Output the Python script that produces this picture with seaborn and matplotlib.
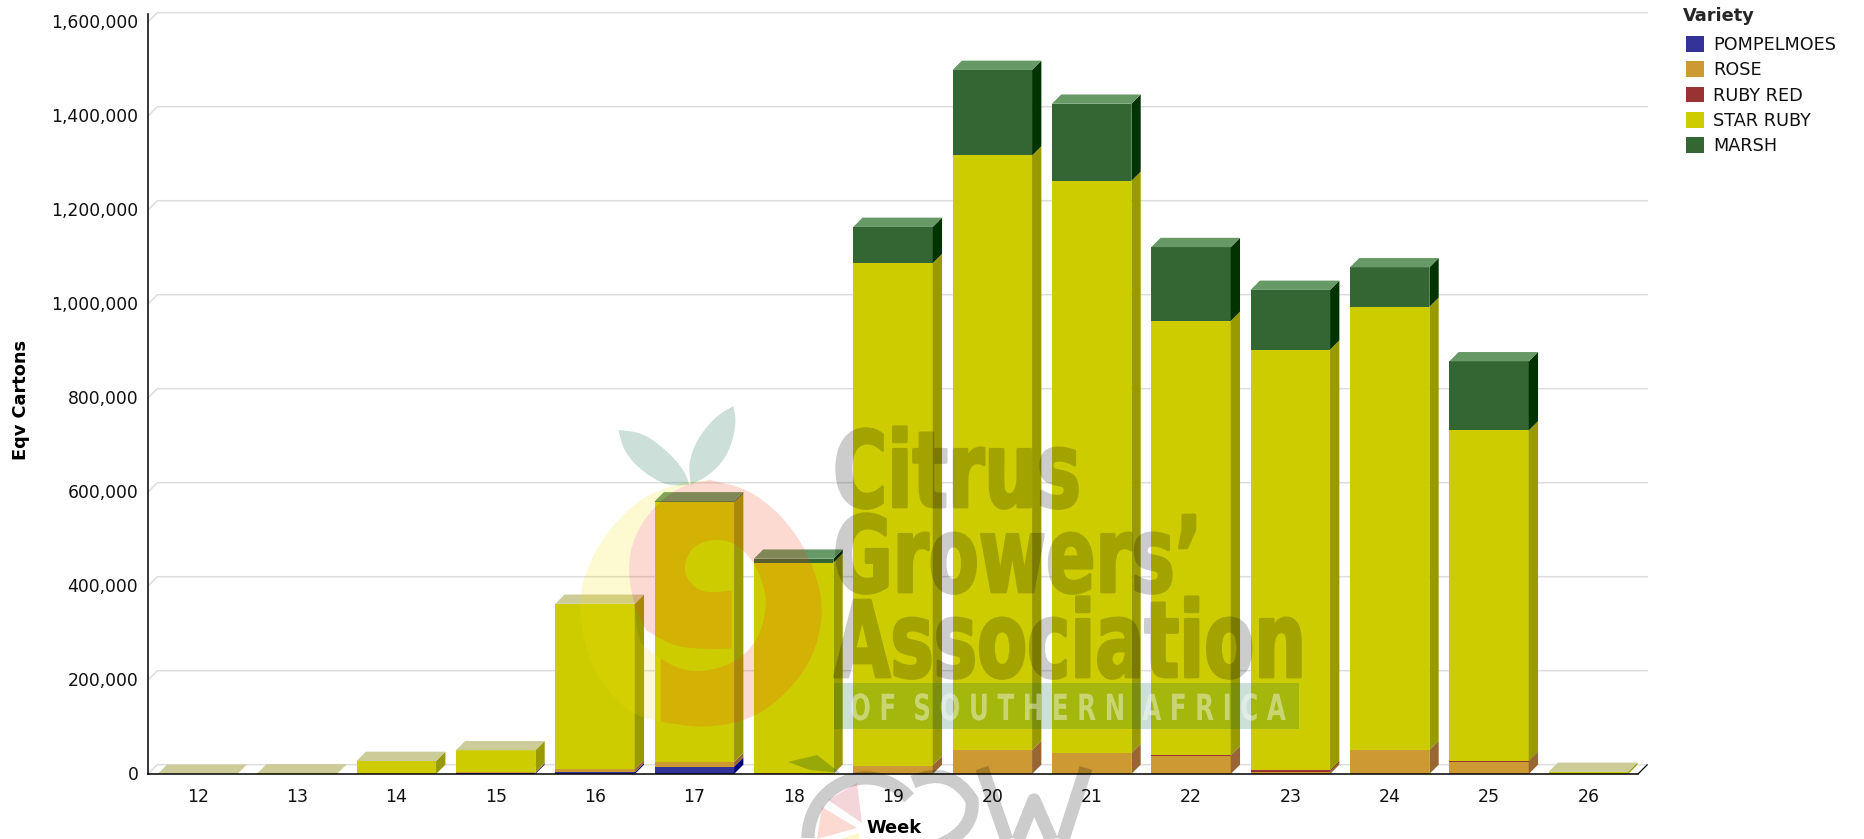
import numpy as np
import pandas as pd
import matplotlib
matplotlib.use("Agg")
import matplotlib.pyplot as plt
import seaborn as sns
from matplotlib.patches import Polygon, PathPatch, Patch, Rectangle
from matplotlib.path import Path
from matplotlib.patheffects import AbstractPathEffect
from matplotlib.transforms import Affine2D, ScaledTranslation

weeks = ["12", "13", "14", "15", "16", "17", "18", "19", "20", "21", "22", "23", "24", "25", "26"]
pompelmoes = [0, 0, 0, 2000, 3500, 15500, 0, 0, 0, 500, 0, 0, 0, 0, 0]
rose = [0, 0, 0, 1500, 7000, 10000, 1500, 18000, 51000, 44000, 38000, 5000, 51000, 26000, 0]
ruby_red = [0, 0, 0, 500, 0, 0, 0, 0, 0, 0, 1500, 2500, 0, 1500, 0]
star_ruby = [300, 1200, 27700, 46400, 351500, 552500, 448000, 1069000, 1265000, 1217500, 924500, 895500, 943000, 703500, 4500]
marsh = [0, 0, 0, 0, 0, 2000, 8500, 77000, 182000, 164000, 157000, 127000, 84000, 147000, 0]

series_names = ["POMPELMOES", "ROSE", "RUBY RED", "STAR RUBY", "MARSH"]
series_values = [pompelmoes, rose, ruby_red, star_ruby, marsh]
front_colors = ["#333399", "#cc9933", "#993333", "#cccc00", "#336633"]
side_colors = ["#000080", "#996633", "#660000", "#999900", "#003300"]
top_colors = ["#6666cc", "#cc9966", "#cc6666", "#cccc99", "#669966"]
y_ticks = [0, 200000, 400000, 600000, 800000, 1000000, 1200000, 1400000, 1600000]

W, H = 1864, 839
sns.set_theme(style="white")
plt.rcParams["font.family"] = ["DejaVu Sans"]
fig = plt.figure(figsize=(W / 100, H / 100), dpi=100, facecolor="white")

ax_l, ax_r, ax_b, ax_t = 148, 1638, 774, 14
ax = fig.add_axes([ax_l / W, 1 - ax_b / H, (ax_r - ax_l) / W, (ax_b - ax_t) / H])
ymax = (ax_b - ax_t) / 470 * 1e6
depth = 9.3

df = pd.DataFrame({"Week": weeks})
bottom = np.zeros(len(weeks))
for name, vals, col in zip(series_names, series_values, front_colors):
    df[name] = vals
    sns.barplot(data=df, x="Week", y=name, order=weeks, color=col, saturation=1,
                width=0.8, bottom=bottom.copy(), ax=ax, linewidth=0, zorder=3)
    bottom += np.asarray(vals, dtype=float)

ax.set_xlim(-0.5, len(weeks) - 0.5)
ax.set_ylim(0, ymax)
dx = depth * len(weeks) / (ax_r - ax_l)
dy = depth * ymax / (ax_b - ax_t)

# pseudo-3D faces derived from the bars drawn by seaborn
topmost = {}
for s, cont in enumerate(ax.containers):
    for i, bar in enumerate(cont):
        h = bar.get_height()
        if h <= 0:
            continue
        x0, y0, w = bar.get_x(), bar.get_y(), bar.get_width()
        x1, y1 = x0 + w, y0 + h
        ax.add_patch(Polygon([(x1, y0), (x1 + dx, y0 + dy), (x1 + dx, y1 + dy), (x1, y1)],
                             closed=True, fc=side_colors[s], lw=0, zorder=3, clip_on=False))
        topmost[i] = (x0, x1, y1, s)
for x0, x1, y1, s in topmost.values():
    ax.add_patch(Polygon([(x0, y1), (x0 + dx, y1 + dy), (x1 + dx, y1 + dy), (x1, y1)],
                         closed=True, fc=top_colors[s], lw=0, zorder=3, clip_on=False))

# back wall grid with diagonals
grid_c = "#dedede"
xa, xb = -0.5, len(weeks) - 0.5
for v in y_ticks:
    ax.plot([xa, xa + dx, xb + dx], [v, v + dy, v + dy], color=grid_c, lw=1.1, zorder=1,
            clip_on=False, solid_joinstyle="miter")
ax.plot([xb, xb + dx], [0, dy], color="black", lw=0.9, zorder=4, clip_on=False)

for sp in ["top", "right"]:
    ax.spines[sp].set_visible(False)
for sp in ["left", "bottom"]:
    ax.spines[sp].set_color("black")
    ax.spines[sp].set_linewidth(1.1)
    ax.spines[sp].set_zorder(5)
ax.grid(False)
ax.set_xticks(range(len(weeks)))
ax.set_xticklabels(weeks)
ax.set_yticks(y_ticks)
ax.set_yticklabels([f"{v:,}" for v in y_ticks])
ax.tick_params(axis="both", length=0, labelsize=12.4, labelcolor="#111111")
ax.tick_params(axis="x", pad=10)
ax.tick_params(axis="y", pad=7)
for lab in ax.get_yticklabels():
    lab.set_transform(lab.get_transform() + ScaledTranslation(0, 1.0 / 72, fig.dpi_scale_trans))
ax.set_xlabel("")
ax.set_ylabel("")

fig.text(894 / W, 1 - 828 / H, "Week", ha="center", va="center", fontsize=12.8, fontweight="bold", color="black", zorder=30)
fig.text(21 / W, 1 - 400 / H, "Eqv Cartons", ha="center", va="center", rotation=90, fontsize=12.8,
         fontweight="bold", color="black")

handles = [Patch(fc=c, lw=0, label=n) for n, c in zip(series_names, front_colors)]
leg = fig.legend(handles=handles, title="Variety", loc="upper left",
                 bbox_to_anchor=(1686 / W, 1 - 7 / H), frameon=False, borderpad=0, borderaxespad=0,
                 fontsize=12.7, title_fontproperties={"weight": "bold", "size": 12.8},
                 handlelength=1, handleheight=1, handletextpad=0.53, labelspacing=0.42, alignment="left")
leg.get_title().set_position((-3, 0))
leg._legend_box.sep = 7.7
for t in leg.get_texts():
    t.set_color("#111111")

# watermark overlay in pixel coordinates
ov = fig.add_axes([0, 0, 1, 1], zorder=20)
ov.set_xlim(0, W)
ov.set_ylim(H, 0)
ov.axis("off")
ov.patch.set_alpha(0)


def z6(pts):
    return [(560 + x / 3, 400 + y / 3) for x, y in pts]


def smooth(pts, n=3):
    p = np.asarray(pts, dtype=float)
    for _ in range(n):
        a = 0.75 * p[:-1] + 0.25 * p[1:]
        b = 0.25 * p[:-1] + 0.75 * p[1:]
        q = np.empty((2 * len(a), 2))
        q[0::2] = a
        q[1::2] = b
        p = np.vstack([p[:1], q[1:-1], p[-1:]])
    return [tuple(v) for v in p]


pink_left = [(258, 690), (222, 620), (202, 500), (225, 400), (290, 310), (370, 255), (450, 240)]
pink_right = [(450, 240), (560, 265), (660, 340), (740, 450), (785, 580), (785, 680), (750, 790),
              (670, 890), (570, 960), (430, 985), (302, 965)]
nine_band = [(302, 775), (350, 805), (420, 817), (510, 795), (570, 750), (605, 690), (620, 615),
             (612, 560), (585, 490), (530, 430), (460, 415), (395, 440), (370, 500), (385, 545),
             (430, 580), (515, 572)]
nine_in = [(515, 745), (450, 748), (340, 740), (258, 690)]
pink = smooth(pink_left) + smooth(pink_right)[1:] + smooth(nine_band) + smooth(nine_in)
ov.add_patch(Polygon(z6(pink), closed=True, fc="#f0461e", alpha=0.2, lw=0))

yellow_outer = [(450, 240), (350, 250), (230, 300), (130, 410), (70, 530), (57, 620), (75, 750),
                (130, 860), (210, 940), (302, 968)]
yellow = smooth(yellow_outer) + smooth([(302, 775), (258, 745), (235, 720), (222, 620)]) + smooth(pink_left[1:])[1:]
ov.add_patch(Polygon(z6(yellow), closed=True, fc="#f4de00", alpha=0.18, lw=0))

for side_a, side_b in [([(175, 90), (250, 98), (330, 160), (375, 215), (388, 255)],
                        [(388, 255), (320, 258), (240, 210), (190, 150), (175, 90)]),
                       ([(520, 18), (530, 70), (505, 165), (450, 225), (392, 255)],
                        [(392, 255), (385, 190), (410, 120), (465, 50), (520, 18)])]:
    ov.add_patch(Polygon(z6(smooth(side_a) + smooth(side_b)), closed=True, fc="#006441", alpha=0.2, lw=0))


class Squeeze(AbstractPathEffect):
    """Condense a text's glyphs horizontally about x0 and fatten them by a stroke."""

    def __init__(self, x0, sx, stroke=0.0):
        super().__init__()
        self.x0, self.sx, self.stroke = x0, sx, stroke

    def draw_path(self, renderer, gc, tpath, affine, rgbFace=None):
        aff = affine + Affine2D().translate(-self.x0, 0).scale(self.sx, 1).translate(self.x0, 0)
        g = renderer.new_gc()
        g.copy_properties(gc)
        if self.stroke:
            g.set_linewidth(self.stroke)
            g.set_foreground(rgbFace)
        renderer.draw_path(g, tpath, aff, rgbFace)
        g.restore()


def alpha_filter(a):
    def f(im, dpi):
        im = im.copy()
        im[..., 3] *= a
        return im, 0, 0
    return f


for txt, x, y, fs, sx in [("Citrus", 833, 507, 76, 0.70), ("Growers\u2019", 833, 592, 76, 0.69),
                          ("Association", 834, 677, 76, 0.69)]:
    t = ov.text(x, y, txt, fontweight="bold", fontsize=fs, color="black", ha="left", va="baseline")
    t.set_path_effects([Squeeze(ov.transData.transform((x, y))[0], sx, stroke=2.0)])
    t.set_agg_filter(alpha_filter(0.2))
ov.add_patch(Rectangle((834, 683), 465, 46, fc="#006441", alpha=0.2, lw=0))
t = ov.text(850, 720, "O F  S O U T H E R N  A F R I C A", fontweight="bold", fontsize=26,
            color="white", alpha=0.42, ha="left", va="baseline")
t.set_path_effects([Squeeze(ov.transData.transform((850, 720))[0], 0.68)])

# lower logo
grey = dict(color="black", alpha=0.2, lw=9.5, solid_capstyle="butt", solid_joinstyle="round")


def ell(cx, cy, rx, ry, a0, a1, n=70):
    t = np.radians(np.linspace(a0, a1, n))
    return np.column_stack([cx + rx * np.cos(t), cy + ry * np.sin(t)])


ring = ell(866, 838, 58, 60, 180, 318, 50)
ov.plot(ring[:, 0], ring[:, 1], **grey)
ov.add_patch(PathPatch(Path([(913, 782), (950, 765), (972, 800), (975, 830), (940, 845)],
                            [Path.MOVETO, Path.CURVE3, Path.CURVE3, Path.CURVE3, Path.CURVE3]),
                       fc="none", ec="black", alpha=0.2, lw=9.5))
ov.plot([982, 1012, 1034, 1058, 1086], [768, 855, 800, 855, 768], **grey)
ov.add_patch(Polygon([(828, 800), (857, 783), (862, 823)], closed=True, fc="#c8324a", alpha=0.2, lw=0))
ov.add_patch(Polygon([(817, 839), (822, 807), (857, 828)], closed=True, fc="#f0461e", alpha=0.2, lw=0))
ov.add_patch(Polygon([(840, 839), (858, 833), (860, 839)], closed=True, fc="#f4de00", alpha=0.2, lw=0))
ov.add_patch(Polygon([(788, 762), (817, 755), (840, 773), (810, 770)], closed=True, fc="#004020", alpha=0.25, lw=0))

fig.savefig("out.png", dpi=100, facecolor="white")
